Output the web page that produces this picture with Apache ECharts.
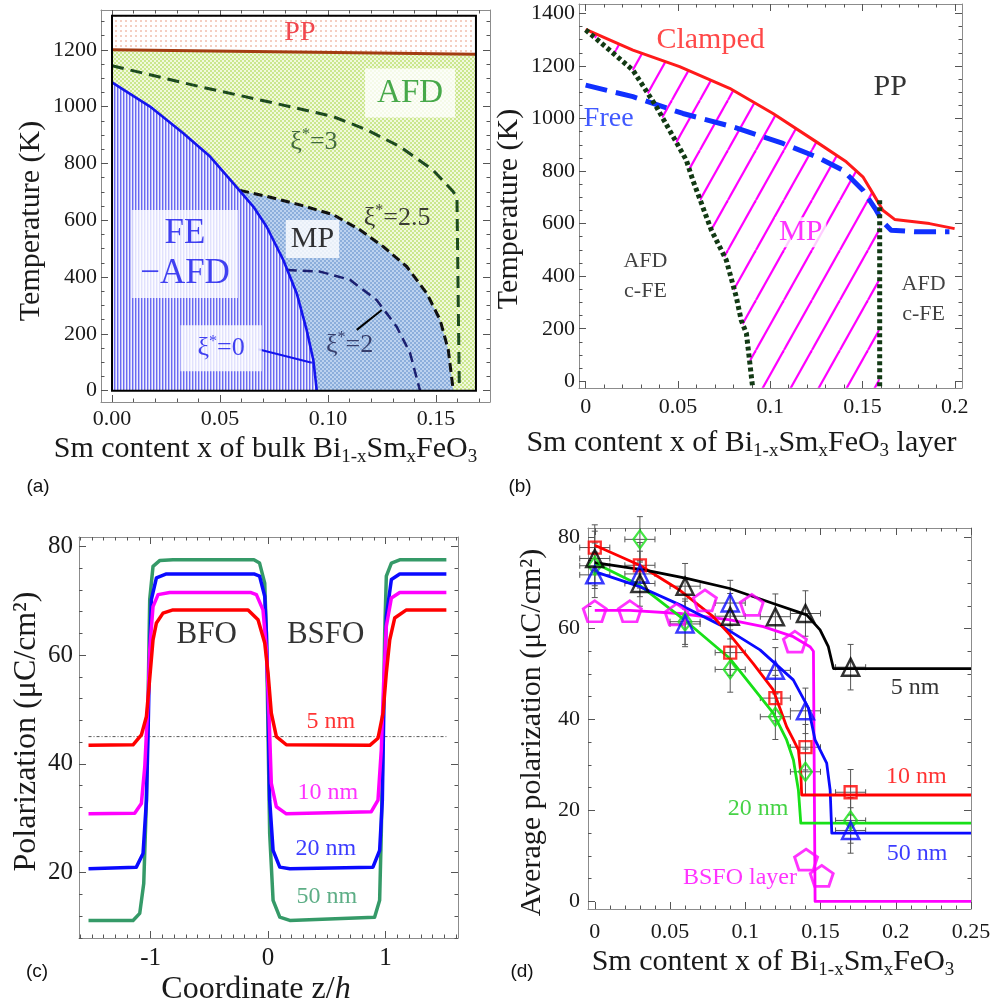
<!DOCTYPE html>
<html><head><meta charset="utf-8">
<script src="https://cdn.jsdelivr.net/npm/echarts@6/dist/echarts.min.js"></script>
<style>html,body{margin:0;padding:0;background:#fff}#c{width:997px;height:1005px}</style>
</head><body><div id="c"></div>
<script>
// ================= DATA =================
// ---- Panel (a): bulk phase diagram ----
const aXTicks = [0, 0.05, 0.10, 0.15];
const aYTicks = [0, 200, 400, 600, 800, 1000, 1200];
const aBoxX = [0, 0.1685];
const aBoxT = [0, 1320];
const aPPX = [0, 0.1685];
const aPPT = [1200, 1184];
const aFEX = [0, 0.0176, 0.033, 0.0454, 0.0562, 0.0654, 0.0716, 0.0793, 0.0855, 0.0901, 0.0932, 0.0948];
const aFET = [1085, 1000, 906, 824, 730, 648, 577, 460, 343, 214, 108, 0];
const aXi3X = [0, 0.0407, 0.0718, 0.1023, 0.118, 0.1333, 0.1486, 0.1579, 0.1597, 0.1608];
const aXi3T = [1144, 1070, 1018, 965, 918, 859, 777, 701, 682, 0];
const aXi25X = [0.0593, 0.0716, 0.087, 0.1025, 0.1148, 0.1256, 0.1364, 0.1457, 0.1519, 0.1557, 0.158];
const aXi25T = [705, 684, 654, 619, 566, 507, 437, 343, 249, 143, 0];
const aXi2X = [0.0809, 0.0963, 0.1102, 0.1225, 0.1318, 0.138, 0.1426];
const aXi2T = [425, 419, 390, 319, 225, 132, 0];
const aNoteText = ['PP', 'AFD', 'xi3', 'xi25', 'FE', 'MP', 'xi0', 'xi2'];
const aNoteX = [0.087, 0.138, 0.0935, 0.132, 0.0338, 0.0928, 0.0505, 0.110];
const aNoteT = [1259, 1048, 876, 608, 481, 534, 149, 161];
const aArrowFrom = [[0.0677, 146], [0.1133, 214]];
const aArrowTo = [[0.0925, 98], [0.1249, 284]];

// ---- Panel (b): layer phase diagram ----
const bXTicks = [0, 0.05, 0.1, 0.15, 0.2];
const bYTicks = [0, 200, 400, 600, 800, 1000, 1200, 1400];
const bClampX = [0, 0.0256, 0.0509, 0.078, 0.1015, 0.125, 0.1412, 0.1502, 0.1556, 0.161, 0.1674, 0.1863, 0.1999];
const bClampT = [1339, 1260, 1197, 1115, 1019, 911, 835, 778, 715, 651, 616, 600, 581];
const bFreeX = [0, 0.0256, 0.0527, 0.0798, 0.1069, 0.125, 0.1394, 0.1502, 0.1574, 0.161, 0.1655, 0.179, 0.1971];
const bFreeT = [1127, 1083, 1019, 968, 905, 854, 803, 727, 651, 607, 575, 569, 569];
const bDotX = [0, 0.013, 0.0256, 0.0383, 0.0545, 0.0581, 0.0681, 0.0762, 0.0816, 0.0843, 0.0871, 0.0905];
const bDotT = [1337, 1260, 1184, 1045, 842, 765, 575, 461, 321, 232, 182, -25];
const bRightX = [0.1593, 0.1593];
const bRightT = [689, -25];
const bNoteText = ['Clamped', 'PP', 'Free', 'MP', 'AFD\nc-FE', 'AFD\nc-FE'];
const bNoteX = [0.0677, 0.165, 0.0125, 0.1165, 0.0324, 0.1831];
const bNoteT = [1298, 1120, 998, 567, 400, 312];

// ---- Panel (c): polarization profiles ----
const cXTicks = [-1, 0, 1];
const cYTicks = [20, 40, 60, 80];
const cGreenX = [-1.528,-1.149,-1.092,-1.058,-1.035,-1.021,-1.007,-0.979,-0.92,-0.809,-0.12,-0.072,-0.028,-0.014,0,0.014,0.043,0.1,0.185,0.907,0.95,0.964,0.979,0.993,1.007,1.05,1.121,1.518];
const cGreenY = [11.2,11.2,12.5,18,33.3,51.8,70.2,76.3,77.4,77.5,77.5,76.9,73.2,64,45.6,27.2,14.9,11.8,11.2,11.8,14.9,27.2,45.6,64,74.5,76.9,77.5,77.5];
const cBlueX = [-1.528,-1.121,-1.064,-1.035,-1.021,-1.007,-0.993,-0.95,-0.865,-0.12,-0.072,-0.028,-0.014,0,0.014,0.043,0.1,0.185,0.893,0.95,0.973,0.987,1.007,1.05,1.121,1.518];
const cBlueY = [20.7,21.0,23.5,33.3,45.6,61.0,70.2,74.2,74.9,74.9,74.5,70.8,64,51.8,33.3,24.1,21.0,20.7,21.0,24.1,33.3,51.8,67.1,73.9,74.9,74.9];
const cMagX = [-1.528,-1.135,-1.078,-1.049,-1.021,-1.007,-0.979,-0.936,-0.837,-0.15,-0.099,-0.043,-0.014,0.009,0.028,0.071,0.156,0.879,0.936,0.964,0.984,1.007,1.05,1.121,1.518];
const cMagY = [30.8,30.9,32.7,39.5,51.8,61.0,68.9,71.1,71.5,71.5,71.1,68.3,61.0,48.7,36.4,32.1,30.8,31.2,33.3,42.5,54.8,65.3,70.5,71.5,71.5];
const cRedX = [-1.528,-1.149,-1.078,-1.035,-1.013,-0.979,-0.95,-0.894,-0.809,-0.17,-0.085,-0.028,0,0.028,0.071,0.156,0.866,0.936,0.979,1.007,1.036,1.078,1.178,1.518];
const cRedY = [43.4,43.5,45.3,48.7,54.2,62.8,65.9,67.7,68.3,68.3,66.5,62.2,56.7,49.3,45.0,43.5,43.4,44.7,49.3,56.7,62.8,66.8,68.3,68.3];
const cRefX = [-1.528, 1.518];
const cRefY = [45, 45];
const cNoteText = ['BFO', 'BSFO', '5 nm', '10 nm', '20 nm', '50 nm'];
const cNoteX = [-0.522, 0.491, 0.534, 0.508, 0.491, 0.5];
const cNoteY = [63.7, 63.7, 47.7, 34.6, 24.3, 15.6];

// ---- Panel (d): average polarization ----
const dXTicks = [0, 0.05, 0.1, 0.15, 0.2, 0.25];
const dYTicks = [0, 20, 40, 60, 80];
const dBlackX = [0, 0.0344, 0.061, 0.0898, 0.1186, 0.1408, 0.1497, 0.1552, 0.1586, 0.25];
const dBlackY = [74.5, 72.8, 71.0, 68.8, 65.5, 63.0, 59.7, 56.0, 51.2, 51.2];
const dRedX = [0, 0.0299, 0.0566, 0.0787, 0.0898, 0.1053, 0.1186, 0.1275, 0.132, 0.1353, 0.1369, 0.1375, 0.25];
const dRedY = [78.3, 73.9, 68.4, 62.6, 58.6, 52.3, 46.5, 38.4, 35.5, 33.3, 28.2, 23.4, 23.4];
const dGreenX = [0, 0.0299, 0.061, 0.0898, 0.1186, 0.1275, 0.132, 0.1353, 0.1369, 0.25];
const dGreenY = [74.4, 69.5, 61.5, 53.4, 41.4, 35.5, 31.1, 24.5, 17.2, 17.2];
const dBlueX = [0, 0.0299, 0.0566, 0.0832, 0.1098, 0.1319, 0.142, 0.1464, 0.1541, 0.1564, 0.1575, 0.25];
const dBlueY = [72.5, 69.2, 65.2, 60.8, 55.3, 48.7, 42.5, 35.5, 30.4, 24.5, 15.0, 15.0];
const dMagX = [0, 0.0233, 0.0566, 0.0898, 0.112, 0.1319, 0.143, 0.1453, 0.1464, 0.25];
const dMagY = [64.0, 64.0, 63.3, 61.9, 60.4, 58.2, 56.0, 55.0, 0, 0];
const dBlackPtX = [0, 0.03, 0.06, 0.09, 0.12, 0.14, 0.17];
const dBlackPtY = [75.4, 69.9, 69.3, 62.7, 62.6, 63.3, 51.5];
const dRedPtX = [0, 0.03, 0.09, 0.12, 0.14, 0.17];
const dRedPtY = [77.8, 73.9, 54.7, 44.7, 33.9, 24.0];
const dGreenPtX = [0, 0.03, 0.06, 0.09, 0.12, 0.14, 0.17];
const dGreenPtY = [73.8, 79.6, 61.5, 51.0, 40.6, 28.5, 17.8];
const dBluePtX = [0, 0.03, 0.06, 0.09, 0.12, 0.14, 0.17];
const dBluePtY = [71.8, 72.0, 61.0, 65.6, 50.8, 41.9, 15.6];
const dMagPtX = [0, 0.0233, 0.0543, 0.0732, 0.1043, 0.133, 0.1404, 0.1508];
const dMagPtY = [63.8, 63.8, 63.1, 66.2, 65.2, 57.1, 9.2, 5.6];
const dBlackErrX = [0.01, 0.01, 0.01, 0.01, 0.01, 0.01, 0.01];
const dBlackErrY = [6, 5, 5, 5, 5, 5, 5];
const dRedErrX = [0.01, 0.01, 0.01, 0.01, 0.01, 0.01];
const dRedErrY = [5, 5, 5, 5, 5, 5];
const dGreenErrX = [0.01, 0.01, 0.01, 0.01, 0.01, 0.01, 0.01];
const dGreenErrY = [5, 5, 5, 5, 5, 5, 5];
const dBlueErrX = [0.01, 0.01, 0.01, 0.01, 0.01, 0.01, 0.01];
const dBlueErrY = [5, 5, 5, 5, 5, 5, 5];
const dNoteText = ['5 nm', '10 nm', '20 nm', '50 nm', 'BSFO layer'];
const dNoteX = [0.2129, 0.2136, 0.1085, 0.2142, 0.0965];
const dNoteY = [46.9, 27.4, 20.4, 10.5, 5.2];

// ================= HELPERS =================
const SERIF = '"Liberation Serif","Times New Roman",serif';
const SANS = '"Liberation Sans",Arial,sans-serif';
const zip = (xs, ys) => xs.map((x, i) => [x, ys[i]]);
function minorVals(lo, hi, step, major) {
  const out = [];
  const s = Math.ceil(lo / step - 1e-9), e = Math.floor(hi / step + 1e-9);
  for (let k = s; k <= e; k++) {
    const v = +(k * step).toFixed(6);
    if (!major.some(m => Math.abs(m - v) < step * 1e-3)) out.push(v);
  }
  return out;
}
function interp(xs, ys, x) {
  for (let i = 0; i < xs.length - 1; i++) {
    if (x >= xs[i] && x <= xs[i + 1]) return ys[i] + (ys[i + 1] - ys[i]) * (x - xs[i]) / (xs[i + 1] - xs[i]);
  }
  return ys[ys.length - 1];
}
function pattern(w, h, draw) {
  const c = document.createElement('canvas'); c.width = w; c.height = h;
  draw(c.getContext('2d'), w, h);
  return { image: c, repeat: 'repeat' };
}
const patAFD = pattern(4, 4, (g) => { g.fillStyle = '#f1f9de'; g.fillRect(0, 0, 4, 4); g.fillStyle = '#cbe78e'; g.fillRect(0, 0, 2, 2); g.fillRect(2, 2, 2, 2); });
const patMP = pattern(4, 4, (g) => { g.fillStyle = '#bcd2ef'; g.fillRect(0, 0, 4, 4); g.fillStyle = '#8caedb'; g.fillRect(0, 0, 2, 2); g.fillRect(2, 2, 2, 2); });
const patPP = pattern(5, 5, (g) => { g.fillStyle = '#ffffff'; g.fillRect(0, 0, 5, 5); g.fillStyle = '#f4cfc2'; g.fillRect(0, 0, 2, 2); });
const patFE = pattern(3, 4, (g) => { g.fillStyle = '#6a6af3'; g.fillRect(0, 0, 1, 4); g.fillStyle = '#b8b8f8'; g.fillRect(1, 0, 1, 4); g.fillStyle = '#efeffe'; g.fillRect(2, 0, 1, 4); });
const patHatch = pattern(28, 50, (g, w, h) => {
  g.fillStyle = 'rgba(255,255,255,0)'; g.fillRect(0, 0, w, h);
  g.strokeStyle = '#ff00ff'; g.lineWidth = 2.2;
  [-w, 0, w].forEach(o => { g.beginPath(); g.moveTo(o, h); g.lineTo(o + w, 0); g.stroke(); });
});

const xAxes = [], yAxes = [];
function addPanelAxes(g, X, Y) {
  const mk = (A, pos, main, minor) => ({
    type: 'value', gridIndex: g, min: A.min, max: A.max, position: pos, silent: true,
    splitLine: { show: false }, minorTick: { show: false }, splitArea: { show: false },
    axisLine: { show: !minor, onZero: false, lineStyle: { color: '#8c8c8c', width: 1 } },
    axisTick: { show: true, inside: true, length: minor ? 3.5 : 7, customValues: minor ? A.minor : A.major, lineStyle: { color: '#555', width: 1 } },
    axisLabel: (main && !minor) ? { show: true, customValues: A.major, formatter: A.fmt, fontFamily: SERIF, fontSize: A.fs, color: '#1a1a1a', margin: A.margin } : { show: false },
    name: (main && !minor) ? A.name : '', nameLocation: 'middle', nameGap: A.nameGap,
    nameTextStyle: { fontFamily: SERIF, fontSize: A.nfs, color: '#1a1a1a', lineHeight: 36, padding: A.npad || 0, rich: A.rich || {} }
  });
  xAxes.push(mk(X, 'bottom', true, false), mk(X, 'bottom', true, true), mk(X, 'top', false, false), mk(X, 'top', false, true));
  yAxes.push(mk(Y, 'left', true, false), mk(Y, 'left', true, true), mk(Y, 'right', false, false), mk(Y, 'right', false, true));
}
const subRich = (fs) => ({ s: { fontFamily: SERIF, fontSize: Math.round(fs * 0.64), lineHeight: 20, verticalAlign: 'bottom', color: '#1a1a1a' } });

function lineS(g, xs, ys, color, width, type, z) {
  return { type: 'line', xAxisIndex: g * 4, yAxisIndex: g * 4, data: zip(xs, ys), symbol: 'none', showSymbol: false,
    lineStyle: { color, width, type: type || 'solid', cap: 'butt', join: 'round' }, silent: true, z: z || 5, animation: false };
}
function polyS(g, pts, fill, z, stroke, lw) {
  return { type: 'custom', xAxisIndex: g * 4, yAxisIndex: g * 4, silent: true, z: z, clip: false,
    encode: { x: 0, y: 1 }, data: pts,
    renderItem: (params, api) => {
      if (params.dataIndex !== 0) return;
      return { type: 'polygon', shape: { points: pts.map(p => api.coord(p)) }, style: { fill: fill, stroke: stroke || null, lineWidth: lw || 0 } };
    } };
}
function textS(g, items, arrows) {
  const s = { type: 'scatter', xAxisIndex: g * 4, yAxisIndex: g * 4, symbolSize: 1, silent: true, z: 20,
    itemStyle: { color: 'rgba(0,0,0,0)' },
    data: items.map(t => ({ value: [t.x, t.y], label: Object.assign({ show: true, position: 'inside', fontFamily: SERIF }, t.style) })) };
  if (arrows) s.markLine = { silent: true, animation: false, symbol: ['none', 'arrow'], symbolSize: [0, 11], label: { show: false },
    data: arrows.map(a => [{ coord: a.from, lineStyle: { color: a.color, width: 2, type: 'solid' } }, { coord: a.to }]) };
  return s;
}
function markS(g, xs, ys, symbol, size, color, bw, z) {
  return { type: 'scatter', xAxisIndex: g * 4, yAxisIndex: g * 4, data: zip(xs, ys), symbol, symbolSize: size, silent: true, z: z || 8,
    itemStyle: { color: 'rgba(255,255,255,0)', borderColor: color, borderWidth: bw || 2.3 } };
}
function errS(g, xs, ys, ex, ey) {
  return { type: 'custom', xAxisIndex: g * 4, yAxisIndex: g * 4, silent: true, z: 4, encode: { x: 0, y: 1 },
    data: xs.map((x, i) => [x, ys[i], ex[i], ey[i]]),
    renderItem: (params, api) => {
      const x = api.value(0), y = api.value(1), dx = api.value(2), dy = api.value(3);
      const l = api.coord([x - dx, y]), r = api.coord([x + dx, y]), t = api.coord([x, y + dy]), b = api.coord([x, y - dy]);
      const st = { stroke: '#555', lineWidth: 1 }, c = 3;
      return { type: 'group', children: [
        { type: 'line', shape: { x1: l[0], y1: l[1], x2: r[0], y2: r[1] }, style: st },
        { type: 'line', shape: { x1: t[0], y1: t[1], x2: b[0], y2: b[1] }, style: st },
        { type: 'line', shape: { x1: l[0], y1: l[1] - c, x2: l[0], y2: l[1] + c }, style: st },
        { type: 'line', shape: { x1: r[0], y1: r[1] - c, x2: r[0], y2: r[1] + c }, style: st },
        { type: 'line', shape: { x1: t[0] - c, y1: t[1], x2: t[0] + c, y2: t[1] }, style: st },
        { type: 'line', shape: { x1: b[0] - c, y1: b[1], x2: b[0] + c, y2: b[1] }, style: st }
      ] };
    } };
}

// ================= AXES =================
addPanelAxes(0,
  { min: -0.0051, max: 0.175, major: aXTicks, minor: minorVals(-0.0051, 0.175, 0.01, aXTicks), fmt: v => (+v).toFixed(2), fs: 22, margin: 6,
    name: 'Sm content x of bulk Bi{s|1-x}Sm{s|x}FeO{s|3}', nameGap: 28, nfs: 30, rich: subRich(30), npad: [0, 60, 0, 0] },
  { min: -40, max: 1340, major: aYTicks, minor: minorVals(-40, 1340, 50, aYTicks), fmt: v => String(v), fs: 22, margin: 4,
    name: 'Temperature (K)', nameGap: 41, nfs: 30, npad: [0, 30, 0, 0] });
addPanelAxes(1,
  { min: -0.0036, max: 0.2039, major: bXTicks, minor: minorVals(-0.0036, 0.2039, 0.01, bXTicks), fmt: v => String(v), fs: 22, margin: 8,
    name: 'Sm content x of Bi{s|1-x}Sm{s|x}FeO{s|3} layer', nameGap: 37, nfs: 30, rich: subRich(30), npad: [0, 58, 0, 0] },
  { min: -25.5, max: 1435.6, major: bYTicks, minor: minorVals(-25.5, 1435.6, 50, bYTicks), fmt: v => String(v), fs: 22, margin: 4,
    name: 'Temperature (K)', nameGap: 51, nfs: 30, npad: [0, 26, 0, 0] });
addPanelAxes(2,
  { min: -1.609, max: 1.617, major: cXTicks, minor: minorVals(-1.609, 1.617, 0.1, cXTicks), fmt: v => String(v), fs: 25, margin: 8,
    name: 'Coordinate z/{i|h}', nameGap: 32, nfs: 32, rich: { i: { fontFamily: SERIF, fontSize: 32, fontStyle: 'italic', color: '#1a1a1a', lineHeight: 36 } }, npad: [0, 25, 0, 0] },
  { min: 7.97, max: 81.7, major: cYTicks, minor: minorVals(7.97, 81.7, 4, cYTicks), fmt: v => String(v), fs: 25, margin: 6,
    name: 'Polarization (μC/cm²)', nameGap: 33, nfs: 32, npad: [0, 0, 0, 12] });
addPanelAxes(3,
  { min: -0.0045, max: 0.25, major: dXTicks, minor: minorVals(-0.0045, 0.25, 0.01, dXTicks), fmt: v => String(v), fs: 22, margin: 12,
    name: 'Sm content x of Bi{s|1-x}Sm{s|x}FeO{s|3}', nameGap: 35, nfs: 30, rich: subRich(30), npad: [0, 13, 0, 0] },
  { min: -1.67, max: 82.1, major: dYTicks, minor: minorVals(-1.67, 82.1, 5, dYTicks), fmt: v => String(v), fs: 22, margin: 8,
    name: 'Average polarization (μC/cm²)', nameGap: 38, nfs: 30, npad: [0, 28, 0, 0] });

// ================= SERIES =================
const series = [];
// ---- (a)
const fePts = zip(aFEX, aFET);
const xi25Pts = zip(aXi25X, aXi25T);
series.push(polyS(0, [[aBoxX[0], aPPT[0]], [aBoxX[1], aPPT[1]], [aBoxX[1], aBoxT[1]], [aBoxX[0], aBoxT[1]]], patPP, 1));
series.push(polyS(0, [[aBoxX[0], aBoxT[0]], [aBoxX[0], aPPT[0]], [aBoxX[1], aPPT[1]], [aBoxX[1], aBoxT[0]]], patAFD, 1));
series.push(polyS(0, [[aBoxX[0], aBoxT[0]]].concat(fePts), patFE, 2));
series.push(polyS(0, fePts.filter(p => p[0] > aXi25X[0]).concat(xi25Pts.slice().reverse()), patMP, 2));
series.push(lineS(0, aPPX, aPPT, '#a33c12', 3));
series.push(lineS(0, aXi3X, aXi3T, '#1d4a1f', 3, [12, 7]));
series.push(lineS(0, aXi25X, aXi25T, '#111111', 3, [9, 5]));
series.push(lineS(0, aXi2X, aXi2T, '#1b1f70', 2.5, [10, 6]));
series.push(lineS(0, aFEX, aFET, '#1414ee', 2.6));
series.push(polyS(0, [[aBoxX[0], aBoxT[0]], [aBoxX[0], aBoxT[1]], [aBoxX[1], aBoxT[1]], [aBoxX[1], aBoxT[0]]], 'none', 7, '#000', 2));
const xiRich = (c, fs) => ({ g: { fontFamily: SERIF, fontSize: fs, color: c, lineHeight: 30 }, p: { fontFamily: SERIF, fontSize: 16, color: c, lineHeight: 16, verticalAlign: 'top' } });
const aStyles = {
  PP: { formatter: 'PP', color: '#ee1c24', fontSize: 28 },
  AFD: { formatter: 'AFD', color: '#1a941f', fontSize: 33, backgroundColor: '#fff', padding: [6, 12, 6, 12], lineHeight: 37 },
  xi3: { formatter: '{g|ξ}{p|*}{g|=3}', rich: xiRich('#1d4a1f', 26) },
  xi25: { formatter: '{g|ξ}{p|*}{g|=2.5}', rich: xiRich('#111', 26) },
  FE: { formatter: 'FE\n−AFD', color: '#1414ee', fontSize: 35, lineHeight: 40, backgroundColor: '#fff', padding: [4, 8, 4, 8] },
  MP: { formatter: 'MP', color: '#000', fontSize: 30, lineHeight: 36, backgroundColor: '#fff', padding: [1, 5, 1, 5] },
  xi0: { formatter: '{g|ξ}{p|*}{g|=0}', rich: xiRich('#1414ee', 26), backgroundColor: '#fff', padding: [8, 17, 8, 17] },
  xi2: { formatter: '{g|ξ}{p|*}{g|=2}', rich: xiRich('#1b1f50', 26) }
};
series.push(textS(0, aNoteText.map((k, i) => ({ x: aNoteX[i], y: aNoteT[i], style: aStyles[k] })),
  [{ from: aArrowFrom[0], to: aArrowTo[0], color: '#1414ee' }, { from: aArrowFrom[1], to: aArrowTo[1], color: '#000' }]));

// ---- (b)
const bClampAtRight = interp(bClampX, bClampT, bRightX[0]);
const bPoly = zip(bDotX, bDotT)
  .concat([[bRightX[0], bRightT[1]], [bRightX[0], bClampAtRight]])
  .concat(zip(bClampX, bClampT).filter(p => p[0] < bRightX[0]).reverse());
series.push(polyS(1, bPoly, patHatch, 2));
series.push(lineS(1, bClampX, bClampT, '#ff1a1a', 3, 'solid', 5));
series.push(lineS(1, bFreeX, bFreeT, '#1030ff', 5, [22, 9], 6));
series.push(lineS(1, bDotX, bDotT, '#123a14', 5, [4, 3], 6));
series.push(lineS(1, bRightX, bRightT, '#123a14', 5, [4, 3], 6));
const bStyles = [
  { color: '#ff1a1a', fontSize: 30 },
  { color: '#000', fontSize: 30 },
  { color: '#1030ff', fontSize: 28 },
  { color: '#ff00ff', fontSize: 30, backgroundColor: '#fff', padding: [0, 4, 0, 4] },
  { color: '#111', fontSize: 22, lineHeight: 30 },
  { color: '#111', fontSize: 22, lineHeight: 30 }
];
series.push(textS(1, bNoteText.map((t, i) => ({ x: bNoteX[i], y: bNoteT[i], style: Object.assign({ formatter: t }, bStyles[i]) }))));

// ---- (c)
series.push(lineS(2, cRefX, cRefY, '#555', 1, [3, 2, 1, 2], 3));
series.push(lineS(2, cGreenX, cGreenY, '#359a68', 3.5, 'solid', 5));
series.push(lineS(2, cBlueX, cBlueY, '#0a0aff', 3.5, 'solid', 6));
series.push(lineS(2, cMagX, cMagY, '#ff00ff', 3.5, 'solid', 7));
series.push(lineS(2, cRedX, cRedY, '#ff0000', 3.5, 'solid', 8));
const cStyles = [
  { color: '#000', fontSize: 31 }, { color: '#000', fontSize: 31 },
  { color: '#ff0000', fontSize: 24 }, { color: '#ff00ff', fontSize: 24 },
  { color: '#0a0aff', fontSize: 24 }, { color: '#359a68', fontSize: 24 }
];
series.push(textS(2, cNoteText.map((t, i) => ({ x: cNoteX[i], y: cNoteY[i], style: Object.assign({ formatter: t }, cStyles[i]) }))));

// ---- (d)
series.push(errS(3, dBlackPtX, dBlackPtY, dBlackErrX, dBlackErrY));
series.push(errS(3, dRedPtX, dRedPtY, dRedErrX, dRedErrY));
series.push(errS(3, dGreenPtX, dGreenPtY, dGreenErrX, dGreenErrY));
series.push(errS(3, dBluePtX, dBluePtY, dBlueErrX, dBlueErrY));
series.push(lineS(3, dMagX, dMagY, '#ff00ff', 2.8, 'solid', 5));
series.push(lineS(3, dGreenX, dGreenY, '#18e018', 2.8, 'solid', 5));
series.push(lineS(3, dBlueX, dBlueY, '#0a0aff', 2.8, 'solid', 5));
series.push(lineS(3, dRedX, dRedY, '#ff0000', 2.8, 'solid', 5));
series.push(lineS(3, dBlackX, dBlackY, '#000', 2.8, 'solid', 6));
const pent = 'path://M50,0 L97.6,34.5 L79.4,90.5 L20.6,90.5 L2.4,34.5 Z';
series.push(markS(3, dMagPtX, dMagPtY, pent, [23, 21], '#ff00ff', 2.8));
series.push(markS(3, dGreenPtX, dGreenPtY, 'diamond', [13, 18], '#18e018', 2.3));
series.push(markS(3, dRedPtX, dRedPtY, 'rect', 12, '#ff0000', 2.3));
series.push(markS(3, dBluePtX, dBluePtY, 'triangle', 17, '#0a0aff', 2.5));
series.push(markS(3, dBlackPtX, dBlackPtY, 'triangle', 17, '#000', 2.5));
const dStyles = [
  { color: '#000', fontSize: 24 }, { color: '#ff0000', fontSize: 24 }, { color: '#18c818', fontSize: 24 },
  { color: '#0a0aff', fontSize: 24 }, { color: '#ff00ff', fontSize: 24 }
];
series.push(textS(3, dNoteText.map((t, i) => ({ x: dNoteX[i], y: dNoteY[i], style: Object.assign({ formatter: t }, dStyles[i]) }))));

// ================= CHART =================
const chart = echarts.init(document.getElementById('c'), null, { renderer: 'canvas' });
chart.setOption({
  animation: false,
  backgroundColor: '#ffffff',
  grid: [
    { left: 101, top: 10, width: 389, height: 392, containLabel: false, outerBoundsMode: 'none' },
    { left: 579, top: 4, width: 383, height: 384, containLabel: false, outerBoundsMode: 'none' },
    { left: 79, top: 537, width: 379, height: 401, containLabel: false, outerBoundsMode: 'none' },
    { left: 588, top: 528, width: 383, height: 381, containLabel: false, outerBoundsMode: 'none' }
  ],
  xAxis: xAxes,
  yAxis: yAxes,
  series: series,
  graphic: [
    { type: 'text', x: 38, y: 487, style: { text: '(a)', fontFamily: SANS, fontSize: 19, fill: '#111', align: 'center', verticalAlign: 'middle' } },
    { type: 'text', x: 520, y: 487, style: { text: '(b)', fontFamily: SANS, fontSize: 19, fill: '#111', align: 'center', verticalAlign: 'middle' } },
    { type: 'text', x: 37, y: 972, style: { text: '(c)', fontFamily: SANS, fontSize: 19, fill: '#111', align: 'center', verticalAlign: 'middle' } },
    { type: 'text', x: 522, y: 972, style: { text: '(d)', fontFamily: SANS, fontSize: 19, fill: '#111', align: 'center', verticalAlign: 'middle' } }
  ]
});
</script></body></html>
